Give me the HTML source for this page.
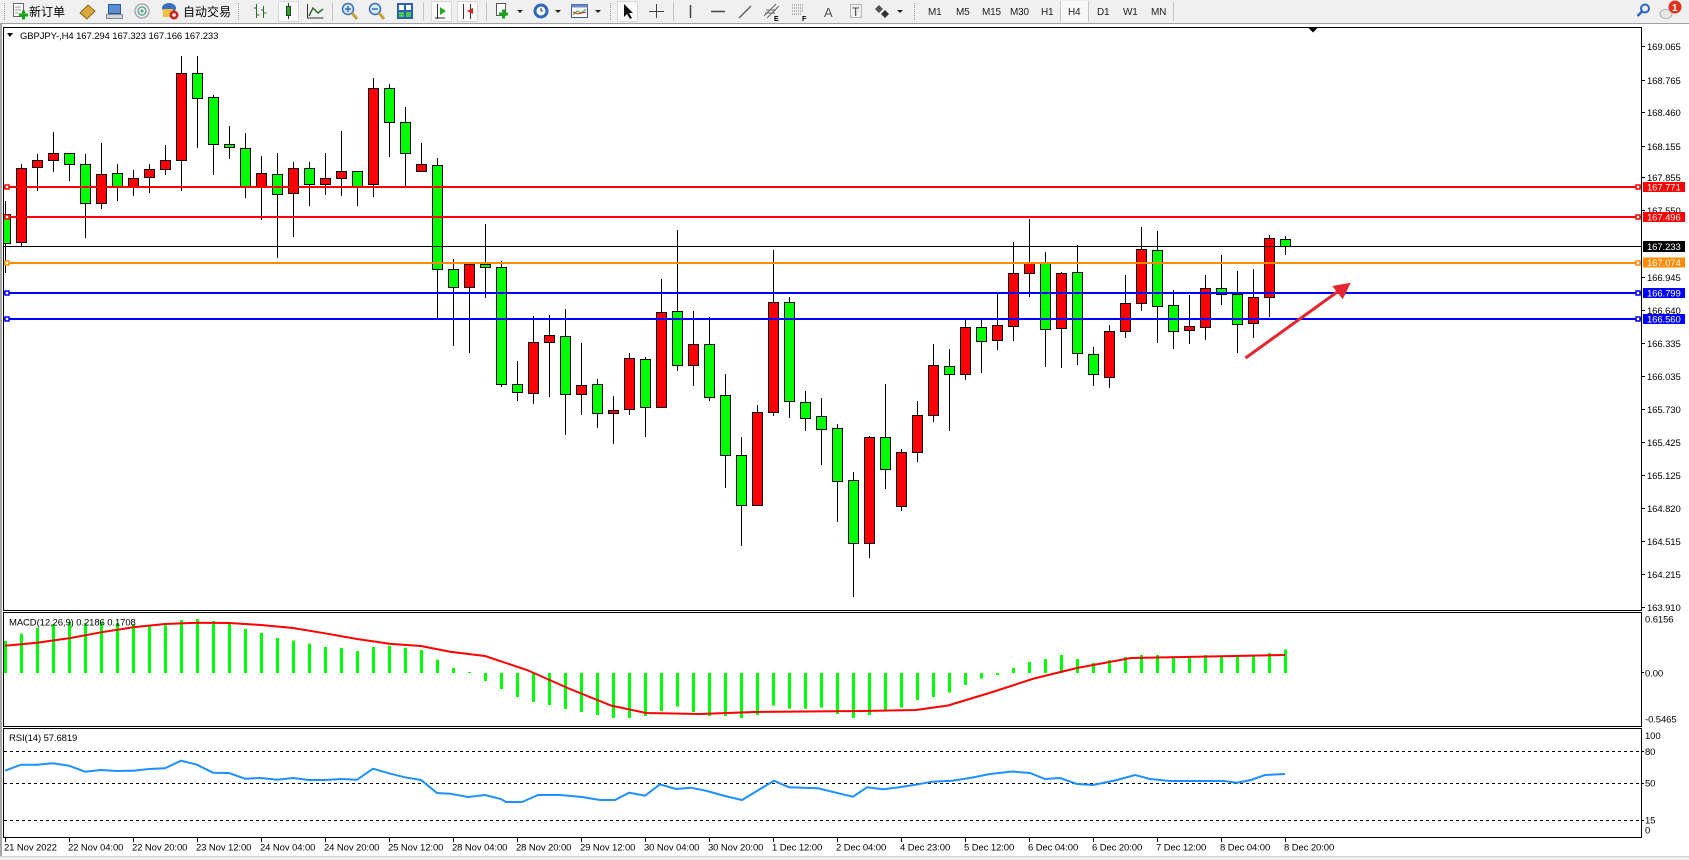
<!DOCTYPE html>
<html><head><meta charset="utf-8">
<style>
html,body{margin:0;padding:0;width:1689px;height:860px;overflow:hidden;background:#fff;}
svg{display:block;}
text{font-family:"Liberation Sans","Noto Sans CJK SC",sans-serif;font-size:9.5px;letter-spacing:-0.1px;fill:#000;}
.cjk{font-size:12px;letter-spacing:0;font-family:"Liberation Sans","Noto Sans CJK SC",sans-serif;}
.tf{font-size:10px;fill:#222;letter-spacing:-0.2px;}
.wt{fill:#fff;}
</style></head><body>
<svg id="s" width="1689" height="860" xmlns="http://www.w3.org/2000/svg">
<defs><clipPath id="cp"><rect x="4" y="28" width="1637" height="582"/></clipPath></defs>
<rect width="1689" height="860" fill="#fff"/>
<!-- toolbar -->
<rect width="1689" height="23" fill="#f0f0f0"/>
<line x1="0" y1="23.5" x2="1689" y2="23.5" stroke="#a0a0a0"/>
<g stroke="#9a9a9a" stroke-dasharray="1,1"><line x1="4.5" y1="3" x2="4.5" y2="20"/><line x1="238.5" y1="3" x2="238.5" y2="20"/><line x1="610.5" y1="3" x2="610.5" y2="20"/><line x1="914.5" y1="3" x2="914.5" y2="20"/></g>
<g stroke="#c4c4c4"><line x1="332.5" y1="2" x2="332.5" y2="21"/><line x1="423.5" y1="2" x2="423.5" y2="21"/><line x1="486.5" y1="2" x2="486.5" y2="21"/><line x1="673.5" y1="2" x2="673.5" y2="21"/><line x1="1173.5" y1="2" x2="1173.5" y2="21"/><line x1="1060.5" y1="1" x2="1060.5" y2="22"/><line x1="1088.5" y1="1" x2="1088.5" y2="22"/></g>
<!-- new order -->
<rect x="13.5" y="3.5" width="10" height="13" fill="#fff" stroke="#666"/>
<path d="M15 7h6M15 10h6M15 13h4" stroke="#999"/>
<path d="M19 15h9M23.5 10.5v9" stroke="#1aa51a" stroke-width="3"/>
<text class="cjk" x="29" y="16">新订单</text>
<polygon points="80,13 88,5 95,11 87,19" fill="#d9a83a" stroke="#8a6420"/>
<rect x="108.5" y="4.5" width="12" height="9" fill="#5b8fd0" stroke="#2a5a9a"/>
<rect x="106.5" y="14.5" width="16" height="4" fill="#d0d4dc" stroke="#889"/>
<circle cx="142" cy="11" r="7" fill="none" stroke="#aab" stroke-width="1.5"/><circle cx="142" cy="11" r="4" fill="none" stroke="#6a9" stroke-width="1.5"/><circle cx="142" cy="11" r="1.5" fill="#4a7"/>
<ellipse cx="169" cy="8" rx="7" ry="5" fill="#3a6fc0"/><rect x="163" y="9" width="10" height="8" fill="#f0c040"/><circle cx="174" cy="15" r="4.5" fill="#d02020"/><circle cx="174" cy="15" r="1.8" fill="#fff"/>
<text class="cjk" x="183" y="16">自动交易</text>
<!-- chart type -->
<path d="M256.5 4v14M254 8h2.5M256.5 15h3M263.5 6v12M261 10h2.5M263.5 13h3" stroke="#2b6e2b" fill="none"/>
<rect x="278.5" y="1.5" width="20" height="20" fill="#fafafa" stroke="#d8d8d8"/>
<path d="M288.5 3v16" stroke="#333"/><rect x="286.5" y="6.5" width="4" height="9" fill="#2a2" stroke="#333"/>
<path d="M307.5 4v14h16" stroke="#333" fill="none"/><polyline points="309,16 313,8 318,13 323,9" stroke="#2b6e2b" fill="none" stroke-width="1.5"/>
<!-- zoom -->
<circle cx="348" cy="9" r="5.5" fill="#d6e8fa" stroke="#3570b8" stroke-width="1.5"/><line x1="352" y1="13" x2="357" y2="19" stroke="#c8a040" stroke-width="3"/><path d="M345 9h6M348 6v6" stroke="#3570b8" stroke-width="1.5"/>
<circle cx="375" cy="9" r="5.5" fill="#d6e8fa" stroke="#3570b8" stroke-width="1.5"/><line x1="379" y1="13" x2="384" y2="19" stroke="#c8a040" stroke-width="3"/><path d="M372 9h6" stroke="#3570b8" stroke-width="1.5"/>
<rect x="397" y="3" width="16" height="16" fill="#2e5fb8"/><rect x="399" y="5" width="5" height="5" fill="#fff"/><rect x="406" y="5" width="5" height="5" fill="#fff"/><rect x="399" y="12" width="5" height="5" fill="#4c4"/><rect x="406" y="12" width="5" height="5" fill="#4c4"/>
<rect x="431.5" y="1.5" width="20" height="20" fill="#fafafa" stroke="#d8d8d8"/><path d="M437.5 4v15M435 18h10" stroke="#333"/><polygon points="440,7 446,11 440,15" fill="#2a2"/>
<rect x="457.5" y="1.5" width="20" height="20" fill="#fafafa" stroke="#d8d8d8"/><path d="M463.5 4v15M470.5 4v15" stroke="#333"/><polygon points="467,11 473,8 473,14" fill="#d22"/>
<!-- templates etc -->
<rect x="496.5" y="3.5" width="9" height="12" fill="#fff" stroke="#555"/><path d="M499 14h9M503.5 9.5v9" stroke="#1aa51a" stroke-width="3"/><polygon points="517,10 523,10 520,13" fill="#222"/>
<circle cx="541" cy="11" r="7.5" fill="#2f66c0"/><circle cx="541" cy="11" r="4.5" fill="#fff"/><path d="M541 8v3h2" stroke="#333" fill="none"/><polygon points="555,10 561,10 558,13" fill="#222"/>
<rect x="571.5" y="4.5" width="16" height="13" fill="#fff" stroke="#3a5a9a"/><rect x="571.5" y="4.5" width="16" height="3" fill="#6a8ac8"/><polyline points="573,15 577,11 581,13 586,9" stroke="#2a2" fill="none"/><polyline points="573,12 578,14 586,12" stroke="#d22" fill="none"/><polygon points="595,10 601,10 598,13" fill="#222"/>
<!-- drawing tools -->
<rect x="617.5" y="1.5" width="20" height="20" fill="#fafafa" stroke="#d8d8d8"/><polygon points="624,4 624,17 627,14 630,19 632,18 629,13 633,13" fill="#111"/>
<path d="M656.5 4v14M649 11.5h15" stroke="#444"/>
<path d="M690.5 5v13" stroke="#444" stroke-width="1.5"/>
<path d="M711 11.5h14" stroke="#444" stroke-width="1.5"/>
<path d="M739 18l12-12" stroke="#666" stroke-width="1.5"/>
<path d="M764 16l12-12M767 18l12-12M766 10h10M765 13h10" stroke="#666"/><text x="774" y="21" style="font-size:7px;font-weight:bold">E</text>
<path d="M792 5h12M792 8h12M792 11h12M792 14h10" stroke="#777" stroke-dasharray="1,1"/><text x="802" y="21" style="font-size:7px;font-weight:bold">F</text>
<text x="824" y="17" style="font-size:13px;fill:#555">A</text>
<rect x="850.5" y="4.5" width="11" height="13" fill="none" stroke="#777" stroke-dasharray="1,1"/><text x="852" y="16" style="font-size:12px;fill:#444">T</text>
<polygon points="879,5 883,9 879,13 875,9" fill="#555"/><polygon points="885,10 889,14 885,18 881,14" fill="#333"/><polygon points="897,10 903,10 900,13" fill="#222"/>
<!-- timeframes -->
<rect x="1061" y="1" width="27" height="21" fill="#f8f8f8"/>
<text class="tf" x="928" y="15">M1</text><text class="tf" x="956" y="15">M5</text><text class="tf" x="982" y="15">M15</text><text class="tf" x="1010" y="15">M30</text><text class="tf" x="1041" y="15">H1</text><text class="tf" x="1068" y="15">H4</text><text class="tf" x="1097" y="15">D1</text><text class="tf" x="1123" y="15">W1</text><text class="tf" x="1151" y="15">MN</text>
<!-- right icons -->
<circle cx="1645" cy="8.5" r="4" fill="none" stroke="#2a62c8" stroke-width="2"/><line x1="1642" y1="11.5" x2="1637.5" y2="16" stroke="#2a62c8" stroke-width="2.5"/>
<ellipse cx="1666" cy="14" rx="6" ry="4.5" fill="#e8e8e8" stroke="#b0b0b0"/>
<circle cx="1675" cy="7" r="6.5" fill="#e0341e"/><text x="1672" y="11" class="wt" style="font-size:10px;font-weight:bold">1</text>
<!-- frame -->
<rect x="0" y="24" width="2" height="833" fill="#a8a8a8"/>
<rect x="0" y="856" width="1689" height="4" fill="#f0f0f0"/>
<line x1="0" y1="856.5" x2="1689" y2="856.5" stroke="#d0d0d0"/>
<!-- panels -->
<g fill="none" stroke="#000">
<rect x="3.5" y="27.5" width="1638" height="583"/>
<rect x="3.5" y="612.5" width="1638" height="114"/>
<rect x="3.5" y="728.5" width="1638" height="109"/>
</g>
<!-- candles -->
<g id="cand" clip-path="url(#cp)"></g>
<!-- horizontal lines -->
<g stroke-width="2">
<line x1="4" y1="187" x2="1641" y2="187" stroke="#ff0000"/>
<line x1="4" y1="217" x2="1641" y2="217" stroke="#ff0000"/>
<line x1="4" y1="263" x2="1641" y2="263" stroke="#ff8c00"/>
<line x1="4" y1="293" x2="1641" y2="293" stroke="#0000ff"/>
<line x1="4" y1="319" x2="1641" y2="319" stroke="#0000ff"/>
</g>
<line x1="4" y1="246.5" x2="1641" y2="246.5" stroke="#000"/>
<g fill="#fff" stroke-width="1.5">
<rect x="5" y="185" width="4" height="4" stroke="#ff0000"/><rect x="1636" y="185" width="4" height="4" stroke="#ff0000"/>
<rect x="5" y="215" width="4" height="4" stroke="#ff0000"/><rect x="1636" y="215" width="4" height="4" stroke="#ff0000"/>
<rect x="5" y="261" width="4" height="4" stroke="#ff8c00"/><rect x="1636" y="261" width="4" height="4" stroke="#ff8c00"/>
<rect x="5" y="291" width="4" height="4" stroke="#0000ff"/><rect x="1636" y="291" width="4" height="4" stroke="#0000ff"/>
<rect x="5" y="317" width="4" height="4" stroke="#0000ff"/><rect x="1636" y="317" width="4" height="4" stroke="#0000ff"/>
</g>
<!-- arrow -->
<line x1="1245.5" y1="358" x2="1340" y2="290" stroke="#e3262f" stroke-width="3"/>
<polygon points="1350.7,282.7 1332.3,286 1342.7,299.3" fill="#e3262f"/>
<!-- title -->
<polygon points="7,33 13,33 10,37" fill="#000"/>
<text x="20" y="39">GBPJPY-,H4  167.294 167.323 167.166 167.233</text>
<polygon points="1308.5,28 1317.5,28 1313,32.5" fill="#000"/>
<!-- price axis -->
<g stroke="#000">
<line x1="1641" y1="46.5" x2="1645" y2="46.5"/><line x1="1641" y1="80.5" x2="1645" y2="80.5"/><line x1="1641" y1="112.5" x2="1645" y2="112.5"/><line x1="1641" y1="146.5" x2="1645" y2="146.5"/><line x1="1641" y1="177.5" x2="1645" y2="177.5"/><line x1="1641" y1="210.5" x2="1645" y2="210.5"/><line x1="1641" y1="277.5" x2="1645" y2="277.5"/><line x1="1641" y1="310.5" x2="1645" y2="310.5"/><line x1="1641" y1="343.5" x2="1645" y2="343.5"/><line x1="1641" y1="376.5" x2="1645" y2="376.5"/><line x1="1641" y1="409.5" x2="1645" y2="409.5"/><line x1="1641" y1="442.5" x2="1645" y2="442.5"/><line x1="1641" y1="475.5" x2="1645" y2="475.5"/><line x1="1641" y1="508.5" x2="1645" y2="508.5"/><line x1="1641" y1="541.5" x2="1645" y2="541.5"/><line x1="1641" y1="574.5" x2="1645" y2="574.5"/><line x1="1641" y1="607.5" x2="1645" y2="607.5"/>
<line x1="1641" y1="672.5" x2="1644" y2="672.5"/>
<line x1="1641" y1="751.5" x2="1644" y2="751.5"/><line x1="1641" y1="783.5" x2="1644" y2="783.5"/><line x1="1641" y1="820.5" x2="1644" y2="820.5"/>
</g>
<g>
<text x="1647" y="50">169.065</text><text x="1647" y="84">168.765</text><text x="1647" y="116">168.460</text><text x="1647" y="150">168.155</text><text x="1647" y="181">167.855</text><text x="1647" y="214">167.550</text><text x="1647" y="281">166.945</text><text x="1647" y="314">166.640</text><text x="1647" y="347">166.335</text><text x="1647" y="380">166.035</text><text x="1647" y="413">165.730</text><text x="1647" y="446">165.425</text><text x="1647" y="479">165.125</text><text x="1647" y="512">164.820</text><text x="1647" y="545">164.515</text><text x="1647" y="578">164.215</text><text x="1647" y="611">163.910</text>
</g>
<rect x="1643" y="182" width="42" height="10" fill="#ff0000"/><text class="wt" x="1647" y="190.5">167.771</text>
<rect x="1643" y="212" width="42" height="10" fill="#ff0000"/><text class="wt" x="1647" y="220.5">167.496</text>
<rect x="1643" y="241" width="42" height="11" fill="#000"/><text class="wt" x="1647" y="250">167.233</text>
<rect x="1643" y="257.5" width="42" height="10" fill="#ff8c00"/><text class="wt" x="1647" y="266">167.074</text>
<rect x="1643" y="288" width="42" height="10" fill="#0000ff"/><text class="wt" x="1647" y="296.5">166.799</text>
<rect x="1643" y="314" width="42" height="10" fill="#0000ff"/><text class="wt" x="1647" y="322.5">166.560</text>
<!-- MACD -->
<g id="macd"></g>
<text x="9" y="625.5">MACD(12,26,9) 0.2186 0.1708</text>
<text x="1645" y="622.5">0.6156</text><text x="1645" y="676.5">0.00</text><text x="1645" y="722.5">-0.5465</text>
<!-- RSI -->
<g stroke="#000" stroke-dasharray="3,3"><line x1="4" y1="751.5" x2="1641" y2="751.5"/><line x1="4" y1="783.5" x2="1641" y2="783.5"/><line x1="4" y1="820.5" x2="1641" y2="820.5"/></g>
<g id="rsi"></g>
<text x="9" y="741">RSI(14) 57.6819</text>
<text x="1645" y="739">100</text><text x="1645" y="755">80</text><text x="1645" y="786.5">50</text><text x="1645" y="823.5">15</text><text x="1645" y="833.5">0</text>
<!-- time axis -->
<g id="tt" stroke="#000"></g>
<g>
<text x="4" y="850.5">21 Nov 2022</text><text x="68" y="850.5">22 Nov 04:00</text><text x="132" y="850.5">22 Nov 20:00</text><text x="196" y="850.5">23 Nov 12:00</text><text x="260" y="850.5">24 Nov 04:00</text><text x="324" y="850.5">24 Nov 20:00</text><text x="388" y="850.5">25 Nov 12:00</text><text x="452" y="850.5">28 Nov 04:00</text><text x="516" y="850.5">28 Nov 20:00</text><text x="580" y="850.5">29 Nov 12:00</text><text x="644" y="850.5">30 Nov 04:00</text><text x="708" y="850.5">30 Nov 20:00</text><text x="772" y="850.5">1 Dec 12:00</text><text x="836" y="850.5">2 Dec 04:00</text><text x="900" y="850.5">4 Dec 23:00</text><text x="964" y="850.5">5 Dec 12:00</text><text x="1028" y="850.5">6 Dec 04:00</text><text x="1092" y="850.5">6 Dec 20:00</text><text x="1156" y="850.5">7 Dec 12:00</text><text x="1220" y="850.5">8 Dec 04:00</text><text x="1284" y="850.5">8 Dec 20:00</text>
</g>
</svg>
<script>
(function(){
var NS='http://www.w3.org/2000/svg';
function el(t,a,p){var e=document.createElementNS(NS,t);for(var k in a)e.setAttribute(k,a[k]);p.appendChild(e);return e;}
var z10=[['g',488,568,452,650],['r',357,566,348,577],['r',337,356,320,420],['r',315,337,258,367],['g',315,348,315,392],['g',348,457,320,551],['r',376,455,288,470],['g',373,410,347,448],['r',385,410,365,434],['r',362,384,347,426],['r',337,362,294,375],['r',93,337,45,420],['g',93,163,45,299],['g',160,292,155,374],['g',292,300,241,329],['g',303,408,260,440],['r',373,408,325,500],['g',376,432,316,607],['r',357,429,342,548],['g',359,404,342,462],['r',387,404,316,431],['r',368,387,255,434],['g',368,408,368,462],['r',135,404,106,437],['g',135,230,123,325],['g',230,315,188,406],['r',348,368,288,368],['g',351,642,330,780]];
var z11=[['g',238,290,208,465],['r',222,290,222,486],['g',222,232,102,320],['g',232,583,213,587],['g',583,607,513,630],['r',457,610,378,638],['r',436,455,375,618],['g',439,613,357,732],['r',586,613,459,672],['g',583,670,567,711],['r',661,670,618,758],['r',505,658,489,672],['g',508,650,501,738],['r',367,650,267,650],['g',364,526,120,540],['r',463,526,363,585],['g',463,622,381,630],['g',616,796,552,890],['g',796,946,741,1064],['r',667,946,645,946],['r',337,667,180,675],['g',337,634,321,681],['g',637,685,603,720],['g',679,718,624,822],['g',715,874,702,993],['g',871,1060,846,1218]];
var z12=[['r',712,1030,708,1070],['g',712,808,552,863],['r',757,919,747,929],['r',646,757,603,782],['r',496,646,432,662],['g',499,523,447,689],['r',382,523,357,536],['g',382,424,357,515],['r',376,421,282,446],['r',220,379,126,419],['r',190,220,57,288],['g',190,388,156,497],['r',220,385,216,500],['g',217,460,135,491],['g',463,523,441,554],['r',394,532,376,560],['r',310,394,225,412],['r',148,310,81,329],['g',151,319,93,425],['g',316,394,270,443],['r',379,391,285,428],['r',265,382,225,416],['g',265,283,165,311],['g',283,373,213,455],['r',292,370,207,410],['r',115,292,105,347],['g',118,138,108,161]];
var C=[];
function add(arr,o,s){arr.forEach(function(d){C.push([d[0],o+d[1]/s,o+d[2]/s,o+d[3]/s,o+d[4]/s]);});}
add(z10,40,2.8);add(z11,190,3);add(z12,200,3);
var g=document.getElementById('cand');
C.forEach(function(d,i){
 var cx=5+16*i;
 var wt=Math.round(d[3]),wb=Math.round(d[4]);
 el('line',{x1:cx+0.5,x2:cx+0.5,y1:wt,y2:wb+1,stroke:'#000','stroke-width':1},g);
 var bt=Math.round(d[1]),bb=Math.round(d[2]);
 el('rect',{x:cx-4.5,y:bt+0.5,width:10,height:Math.max(bb-bt,1),fill:d[0]=='r'?'#ff0000':'#00ff00',stroke:'#000','stroke-width':1},g);
});
// MACD
var hb=[641,633.7,628,624,622,623,622,623,624,625.7,625.3,620,619,621,623.3,629,633,638,640.7,643.7,647,648,651,647,645.7,647.7,650,659.7,
668,672,681,689,697,702,705,709,712,715,718,718,716,711,706.5,712,716,716,718,715,705.5,708.7,708.7,707.6,714,718,715,711,707.6,700,697,692.5,685,678.5,675,668,662,659,655,659,663,660,657,655,655,657,657,655,657,657,655,653,649.5];
var m=document.getElementById('macd');
var z=673;
hb.forEach(function(v,i){
 var cx=5+16*i;var t=Math.min(v,z),b=Math.max(v,z);
 if(b-t<1)b=t+1;
 el('rect',{x:cx-1,y:t,width:3,height:b-t,fill:'#00ff00'},m);
});
var sp=[[5,645.7],[37,642.7],[69,638.3],[101,632.3],[133,627.3],[165,624],[197,622.7],[229,623],[261,625],[293,628],[325,633.3],[357,639],[389,643.7],[421,646],[450,651.7],[485,656],[527,670],[570,689],[611,705.5],[646,713],[700,714],[754,712],[862,711],[916,710],[948,705.5],[991,692.5],[1034,678.5],[1077,668],[1131,658],[1185,657],[1285,655]];
el('polyline',{points:sp.map(function(p){return p.join(',');}).join(' '),fill:'none',stroke:'#ff0000','stroke-width':2},m);
// RSI
var rp=[[5,770.7],[21,764.7],[37,764.7],[53,763.3],[69,765.7],[85,771.7],[101,770],[117,771],[133,770.7],[149,769],[165,768.3],[181,760.7],[197,764.7],[213,772.7],[229,773],[245,778.7],[261,778],[277,779.7],[293,778],[309,780],[325,780],[341,779],[357,779.7],[373,768.7],[389,773.3],[405,777.3],[421,780],[437,793],[450,793.7],[468,797],[485,795],[501,799],[506,802],[522,802],[538,795],[560,795],[582,797],[600,800],[615,800],[629,792.7],[645,795.7],[660,784.3],[676,789],[691,787.7],[707,791],[725,796],[742,800],[774,780.7],[789,787.3],[818,788.3],[836,792.7],[853,796.7],[867,787.3],[883,789.3],[899,787.3],[916,784.7],[932,781.7],[952,780.7],[970,778],[990,774],[1012,771.5],[1030,773],[1045,779],[1060,778],[1077,784],[1093,785],[1117,780],[1135,775],[1150,779],[1170,781],[1200,781],[1224,781],[1237,782.7],[1251,780],[1265,775],[1285,774]];
el('polyline',{points:rp.map(function(p){return p.join(',');}).join(' '),fill:'none',stroke:'#1e90ff','stroke-width':2},document.getElementById('rsi'));
// time ticks
var tt=document.getElementById('tt');
for(var k=0;k<=20;k++){var x=5+64*k+0.5;el('line',{x1:x,x2:x,y1:838,y2:842},tt);}
})();
</script>
</body></html>
